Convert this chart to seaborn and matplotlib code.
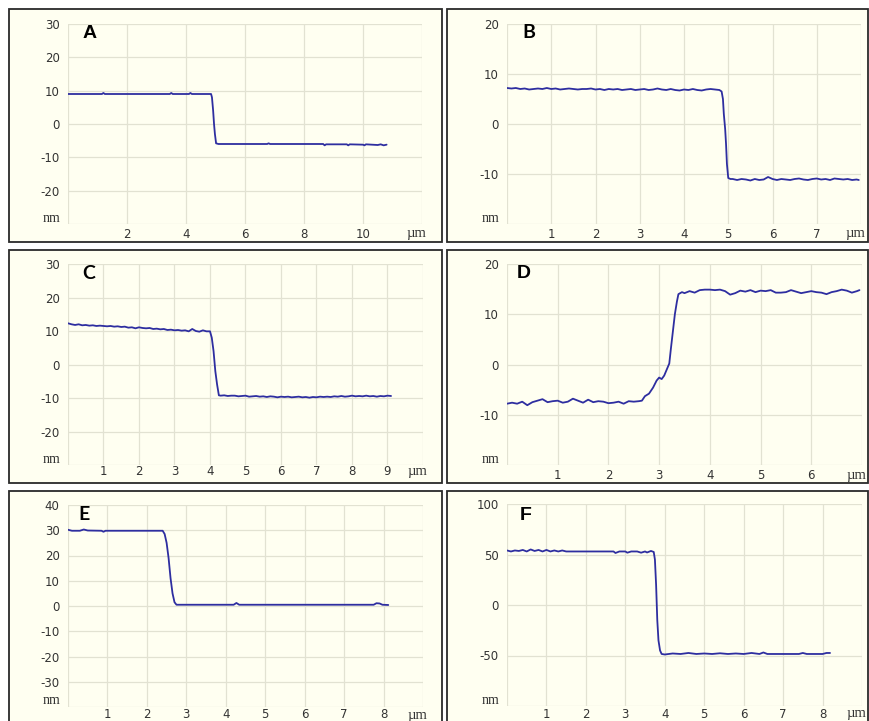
import numpy as np
import pandas as pd
import matplotlib
matplotlib.use("Agg")
import matplotlib.pyplot as plt
from matplotlib.patches import Rectangle
import seaborn as sns

# ---------------- step-height profiles (x in µm, height in nm) ----------------
A_x = [0, 1.15, 1.2, 1.25, 3.45, 3.5, 3.55, 4.1, 4.15, 4.2, 4.85, 4.88, 4.92,
       4.95, 4.98, 5.02, 5.1, 5.2, 6.75, 6.8, 6.85, 8.65, 8.7, 8.75, 9.45, 9.5,
       9.55, 10.0, 10.05, 10.1, 10.3, 10.5, 10.6, 10.7, 10.8]
A_y = [9, 9, 9.3, 9, 9, 9.3, 9, 9, 9.3, 9, 9, 8, 4, 0, -3, -5.8, -6, -6, -6,
       -5.8, -6, -6, -6.4, -6.1, -6.1, -6.4, -6.1, -6.2, -6.4, -6.1, -6.2,
       -6.3, -6.1, -6.4, -6.2]

B_x = [0.0, 0.1, 0.2, 0.3, 0.4, 0.5, 0.6, 0.7, 0.8, 0.9,
       1.0, 1.1, 1.2, 1.3, 1.4, 1.5, 1.6, 1.7, 1.8, 1.9,
       2.0, 2.1, 2.2, 2.3, 2.4, 2.5, 2.6, 2.7, 2.8, 2.9,
       3.0, 3.1, 3.2, 3.3, 3.4, 3.5, 3.6, 3.7, 3.8, 3.9,
       4.0, 4.1, 4.2, 4.3, 4.4, 4.5, 4.6, 4.7, 4.8,
       4.85, 4.88, 4.9, 4.93, 4.95, 4.97, 5.0, 5.05,
       5.1, 5.2, 5.3, 5.4, 5.5, 5.6, 5.7, 5.8, 5.9, 6.0,
       6.1, 6.2, 6.3, 6.4, 6.5, 6.6, 6.7, 6.8, 6.9, 7.0,
       7.1, 7.2, 7.3, 7.4, 7.5, 7.6, 7.7, 7.8, 7.9, 7.95]
B_y = [7.2, 7.1, 7.2, 7.0, 7.1, 6.9, 7.0, 7.1, 7.0, 7.2,
       7.0, 7.1, 6.9, 7.0, 7.1, 7.0, 6.9, 7.0, 7.0, 7.1,
       6.9, 7.0, 6.8, 7.0, 6.9, 7.0, 6.8, 6.9, 7.0, 6.8,
       6.9, 7.0, 6.8, 6.9, 7.1, 6.9, 6.8, 7.0, 6.8, 6.7,
       6.9, 6.8, 7.0, 6.8, 6.7, 6.9, 7.0, 6.9, 6.8,
       6.5, 5.0, 2.0, -1.0, -4.0, -8.0, -10.8, -11.0,
       -11.0, -11.2, -11.0, -11.1, -11.3, -11.0, -11.2, -11.1, -10.6, -11.0,
       -11.2, -11.0, -11.1, -11.2, -11.0, -10.9, -11.1, -11.2, -11.0, -10.9,
       -11.1, -11.0, -11.2, -10.9, -11.0, -11.1, -11.0, -11.2, -11.1, -11.2]

C_x = [0.0, 0.1, 0.2, 0.3, 0.4, 0.5, 0.6, 0.7, 0.8, 0.9,
       1.0, 1.1, 1.2, 1.3, 1.4, 1.5, 1.6, 1.7, 1.8, 1.9,
       2.0, 2.1, 2.2, 2.3, 2.4, 2.5, 2.6, 2.7, 2.8, 2.9,
       3.0, 3.1, 3.2, 3.3, 3.4, 3.5, 3.6, 3.7, 3.8, 3.9, 4.0,
       4.05, 4.1, 4.15, 4.2, 4.25,
       4.3, 4.4, 4.5, 4.6, 4.7, 4.8, 4.9, 5.0, 5.1, 5.2,
       5.3, 5.4, 5.5, 5.6, 5.7, 5.8, 5.9, 6.0, 6.1, 6.2,
       6.3, 6.4, 6.5, 6.6, 6.7, 6.8, 6.9, 7.0, 7.1, 7.2,
       7.3, 7.4, 7.5, 7.6, 7.7, 7.8, 7.9, 8.0, 8.1, 8.2,
       8.3, 8.4, 8.5, 8.6, 8.7, 8.8, 8.9, 9.0, 9.1]
C_y = [12.3, 12.0, 11.8, 12.0, 11.7, 11.8, 11.6, 11.7, 11.5, 11.6,
       11.5, 11.4, 11.5, 11.3, 11.4, 11.2, 11.3, 11.0, 11.1, 10.8,
       11.1, 10.9, 10.8, 10.9, 10.6, 10.7, 10.5, 10.6, 10.3, 10.4,
       10.2, 10.3, 10.1, 10.2, 9.9, 10.6, 10.0, 9.8, 10.2, 9.9, 9.9,
       8.0, 4.0, -2.0, -6.0, -9.2,
       -9.3, -9.2, -9.4, -9.3, -9.3, -9.5, -9.4, -9.3, -9.6, -9.5,
       -9.4, -9.6, -9.5, -9.7, -9.5, -9.6, -9.8, -9.6, -9.7, -9.6,
       -9.8, -9.7, -9.6, -9.8, -9.7, -9.9, -9.7, -9.8, -9.6, -9.7,
       -9.6, -9.7, -9.5, -9.6, -9.4, -9.6, -9.5, -9.3, -9.5, -9.4,
       -9.5, -9.3, -9.5, -9.4, -9.6, -9.4, -9.5, -9.3, -9.4]

D_x = [0.0, 0.1, 0.2, 0.3, 0.4, 0.5, 0.6, 0.7, 0.8, 0.9,
       1.0, 1.1, 1.2, 1.3, 1.4, 1.5, 1.6, 1.7, 1.8, 1.9,
       2.0, 2.1, 2.2, 2.3, 2.4, 2.5, 2.6,
       2.66, 2.72, 2.8, 2.88, 2.95, 3.0, 3.05, 3.1, 3.15, 3.2, 3.23, 3.27,
       3.31, 3.35, 3.38, 3.45,
       3.5, 3.6, 3.7, 3.8, 3.9, 4.0, 4.1, 4.2, 4.3, 4.4,
       4.5, 4.6, 4.7, 4.8, 4.9, 5.0, 5.1, 5.2, 5.3, 5.4,
       5.5, 5.6, 5.7, 5.8, 5.9, 6.0, 6.1, 6.2, 6.3, 6.4,
       6.5, 6.6, 6.7, 6.8, 6.9, 6.95]
D_y = [-7.8, -7.6, -7.8, -7.4, -8.1, -7.5, -7.2, -6.9, -7.5, -7.3,
       -7.2, -7.6, -7.4, -6.8, -7.2, -7.6, -7.0, -7.5, -7.3, -7.4,
       -7.7, -7.6, -7.4, -7.8, -7.3, -7.4, -7.3,
       -7.2, -6.3, -5.8, -4.6, -3.2, -2.6, -2.9, -2.2, -1.0, 0.2, 3.0, 6.5,
       10.0, 12.5, 14.0, 14.4,
       14.2, 14.6, 14.3, 14.8, 14.9, 14.9, 14.8, 14.9, 14.6, 13.9,
       14.2, 14.7, 14.5, 14.8, 14.4, 14.7, 14.6, 14.8, 14.3, 14.3,
       14.4, 14.8, 14.5, 14.2, 14.4, 14.6, 14.4, 14.3, 14.0, 14.4,
       14.6, 14.9, 14.7, 14.3, 14.6, 14.8]

E_x = [0, 0.1, 0.3, 0.4, 0.5, 0.85, 0.9, 0.95, 2.4, 2.45, 2.5, 2.55, 2.6,
       2.65, 2.7, 2.75, 4.2, 4.27, 4.34, 7.75, 7.82, 7.9, 7.97, 8.12]
E_y = [30.2, 29.8, 29.8, 30.3, 29.9, 29.8, 29.4, 29.8, 29.8, 28.5, 25, 19,
       11, 5, 1.5, 0.5, 0.5, 1.2, 0.5, 0.5, 1.1, 1.0, 0.5, 0.4]

F_x = [0.0, 0.1, 0.2, 0.3, 0.4, 0.5, 0.6, 0.7, 0.8, 0.9, 1.0, 1.1, 1.2, 1.3,
       1.4, 1.5, 2.7, 2.75, 2.85, 3.0, 3.05, 3.15, 3.3, 3.4, 3.5, 3.55, 3.65,
       3.72, 3.75, 3.78, 3.81, 3.84, 3.88, 3.92, 4.0, 4.2, 4.4, 4.6, 4.8, 5.0,
       5.2, 5.4, 5.6, 5.8, 6.0, 6.2, 6.4, 6.5, 6.6, 7.0, 7.4, 7.5, 7.6, 8.0,
       8.1, 8.19]
F_y = [54, 53, 54, 53.5, 54.5, 53, 55, 53.5, 54.5, 53, 54.5, 53, 54, 53,
       54, 53, 53, 51.5, 53, 53, 51.8, 53, 53, 51.8, 53, 52, 53.5,
       52.5, 45, 20, -15, -35, -45, -48.5, -49, -48, -48.5, -47.5, -48.5, -48,
       -48.5, -47.8, -48.5, -48, -48.5, -47.5, -48.5, -47, -48.5, -48.5, -48.5,
       -47.5, -48.5, -48.5, -47.5, -47.5]

# axis set-up per panel
panels = {
    "A": dict(x=A_x, y=A_y, xmax=12, xstep=2, xlab=[2, 4, 6, 8, 10],
              ylim=30, ystep=10, ylab=[30, 20, 10, 0, -10, -20]),
    "B": dict(x=B_x, y=B_y, xmax=8, xstep=1, xlab=[1, 2, 3, 4, 5, 6, 7],
              ylim=20, ystep=10, ylab=[20, 10, 0, -10]),
    "C": dict(x=C_x, y=C_y, xmax=10, xstep=1, xlab=[1, 2, 3, 4, 5, 6, 7, 8, 9],
              ylim=30, ystep=10, ylab=[30, 20, 10, 0, -10, -20]),
    "D": dict(x=D_x, y=D_y, xmax=7, xstep=1, xlab=[1, 2, 3, 4, 5, 6],
              ylim=20, ystep=10, ylab=[20, 10, 0, -10]),
    "E": dict(x=E_x, y=E_y, xmax=9, xstep=1, xlab=[1, 2, 3, 4, 5, 6, 7, 8],
              ylim=40, ystep=10, ylab=[40, 30, 20, 10, 0, -10, -20, -30]),
    "F": dict(x=F_x, y=F_y, xmax=9, xstep=1, xlab=[1, 2, 3, 4, 5, 6, 7, 8],
              ylim=100, ystep=50, ylab=[100, 50, 0, -50]),
}

# pixel layout: frame box and plotting box (left, top, right, bottom)
W, H = 870, 721
frames = {
    "A": (9, 9, 442, 242), "B": (447, 9, 868, 242),
    "C": (9, 250, 442, 483), "D": (447, 250, 868, 483),
    "E": (9, 491, 442, 730), "F": (447, 491, 868, 730),
}
boxes = {
    "A": (68, 24, 422, 224), "B": (507, 24, 861, 224),
    "C": (68, 264, 423, 465), "D": (507, 264, 862, 465),
    "E": (68, 505, 423, 707), "F": (507, 504, 862, 706),
}
# distance (px) from plot bottom to the centre of the x labels
xlab_off = {"A": 10, "B": 10, "C": 6, "D": 10, "E": 8, "F": 8}
letter_pos = {"A": (90, 33), "B": (529, 32), "C": (89, 273),
              "D": (524, 273), "E": (84, 515), "F": (526, 515)}
letter_font = {"A": "Liberation Sans", "B": "Lato", "C": "Lato",
               "D": "Liberation Sans", "E": "Lato", "F": "Liberation Sans"}

BG = "#FFFFF1"
GRID = "#E2E2D2"
LINE = "#2E2EA0"
TXT = "#333333"
SERIF = ["Liberation Serif", "DejaVu Serif"]

sns.set_style("white")
plt.rcParams["font.family"] = ["DejaVu Sans"]

fig = plt.figure(figsize=(W / 100, H / 100), dpi=100)
fig.patch.set_facecolor("white")


def px_rect(l, t, r, b):
    return [l / W, 1 - b / H, (r - l) / W, (b - t) / H]


for key, p in panels.items():
    fl, ft, fr, fb = frames[key]
    fig.add_artist(Rectangle((fl / W, 1 - fb / H), (fr - fl) / W, (fb - ft) / H,
                             transform=fig.transFigure, facecolor=BG,
                             edgecolor="#2A2A2A", linewidth=1.3, zorder=0))

    ax = fig.add_axes(px_rect(*boxes[key]))
    ax.set_facecolor(BG)
    df = pd.DataFrame({"x": p["x"], "y": p["y"]})
    sns.lineplot(data=df, x="x", y="y", ax=ax, color=LINE, linewidth=1.3,
                 estimator=None, sort=False)

    ax.set_xlim(0, p["xmax"])
    ax.set_ylim(-p["ylim"], p["ylim"])

    xt = np.arange(0, p["xmax"] + 1e-9, p["xstep"])
    ax.set_xticks(xt)
    yt = np.arange(-p["ylim"], p["ylim"] + 1e-9, p["ystep"])
    ax.set_yticks(yt, [f"{int(v)}" if int(v) in p["ylab"] else "" for v in yt])

    ax.grid(True, color=GRID, linewidth=0.9)
    ax.set_axisbelow(True)
    for s in ax.spines.values():
        s.set_visible(False)
    ax.tick_params(length=0, labelsize=8.5, labelcolor=TXT)
    ax.tick_params(axis="y", pad=6)
    ax.tick_params(axis="x", labelbottom=False)
    ax.set_xlabel("")
    ax.set_ylabel("")

    off = xlab_off[key]
    for v in p["xlab"]:
        ax.annotate(f"{v}", xy=(v, -p["ylim"]), xycoords="data",
                    xytext=(0, -off), textcoords="offset pixels", ha="center",
                    va="center", fontsize=8.5, color=TXT, annotation_clip=False)

    # unit labels
    ax.annotate("nm", xy=(0, -p["ylim"]), xycoords="data",
                xytext=(-8, 6), textcoords="offset pixels", ha="right",
                va="center", fontsize=10, color=TXT, family=SERIF,
                annotation_clip=False)
    ax.annotate("µm", xy=(p["xmax"], -p["ylim"]), xycoords="data",
                xytext=(-6, -off), textcoords="offset pixels", ha="center",
                va="center", fontsize=10.5, color=TXT, family=SERIF,
                annotation_clip=False)

    lx, ly = letter_pos[key]
    fig.text(lx / W, 1 - ly / H, key, ha="center", va="center",
             fontsize=14, fontweight="bold", color="black",
             family=[letter_font[key], "DejaVu Sans"])

fig.savefig("out.png", dpi=100, facecolor="white")
